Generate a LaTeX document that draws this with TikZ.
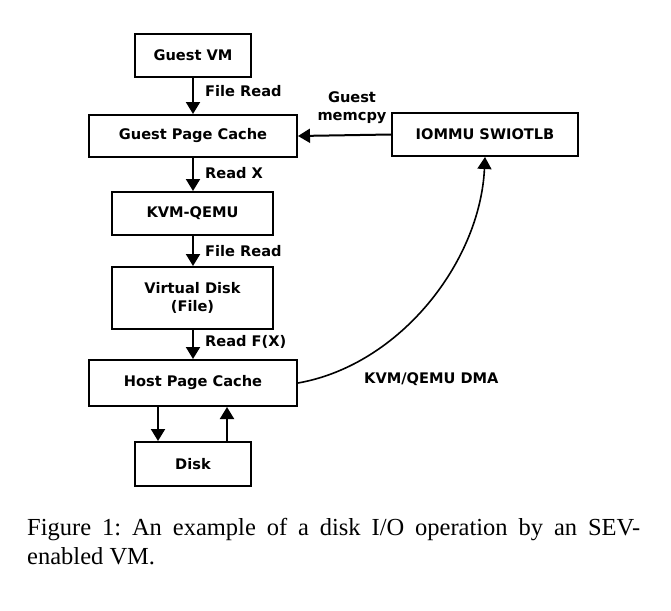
\documentclass[tikz,border=0pt]{standalone}
\usepackage{fontspec}
\newfontfamily\djv{DejaVu Sans}
\newfontfamily\capfont{Liberation Serif}
\usetikzlibrary{arrows.meta}
\tikzset{
  box/.style={draw, line width=2pt, inner sep=0pt, align=center, font=\djv\bfseries\fontsize{14.6}{17.4}\selectfont},
  lbl/.style={inner sep=0pt, align=center, font=\djv\bfseries\fontsize{14.6}{18}\selectfont},
  arr/.style={line width=2pt, -{Triangle[length=12pt,width=14pt]}},
  carr/.style={line width=1.6pt, -{Triangle[length=12pt,width=14pt]}},
  captext/.style={inner sep=0pt, anchor=base west, font=\capfont\frenchspacing\fontsize{24.5}{29}\selectfont}
}
\begin{document}
\begin{tikzpicture}[x=1pt,y=-1pt]
\useasboundingbox[fill=white] (0,0) rectangle (671,610);
\node[box, minimum width=116pt, minimum height=43pt] (gvm) at (193,55.5) {Guest VM};
\node[box, minimum width=208pt, minimum height=42pt] (gpc) at (193,136) {Guest Page Cache};
\node[box, minimum width=186pt, minimum height=43pt] (iommu) at (485,134.5) {IOMMU SWIOTLB};
\node[box, minimum width=161pt, minimum height=43pt] (kvm) at (192.5,213.5) {KVM-QEMU};
\node[box, minimum width=161pt, minimum height=62pt] (vd) at (192.5,298) {Virtual Disk\\(File)};
\node[box, minimum width=208pt, minimum height=46pt] (hpc) at (193,383) {Host Page Cache};
\node[box, minimum width=116pt, minimum height=44pt] (disk) at (193,464) {Disk};
\coordinate (dl) at (158,0);
\coordinate (dr) at (227,0);
\draw[arr] (gvm) -- (gpc);
\draw[arr] (gpc.south) -- (gpc.south |- kvm.north);
\draw[arr] (kvm.south -| gpc.south) -- (vd.north -| gpc.south);
\draw[arr] (vd.south -| gpc.south) -- (hpc.north);
\draw[arr] (hpc.south -| dl) -- (disk.north -| dl);
\draw[arr] (disk.north -| dr) -- (hpc.south -| dr);
\draw[arr] (iommu.west) -- (gpc.east);
\draw[carr] (hpc.east) .. controls (400,365) and (480,262) .. (iommu.south);
\node[lbl, anchor=west] (l1) at (205,91) {File Read};
\node[lbl, anchor=west] (l2) at (205,173) {Read X};
\node[lbl, anchor=west] (l3) at (205,251) {File Read};
\node[lbl, anchor=west] (l4) at (205,342) {Read F(X)};
\node[lbl] (l5) at (352,108) {Guest\\memcpy};
\node[lbl, anchor=west] (l6) at (364,379) {KVM/QEMU DMA};
\node[captext] (c1) at (27,535) {\makebox[613pt][s]{Figure 1: An example of a disk I/O operation by an SEV-}};
\node[captext] (c2) at (27,564) {enabled VM.};
\end{tikzpicture}
\end{document}
